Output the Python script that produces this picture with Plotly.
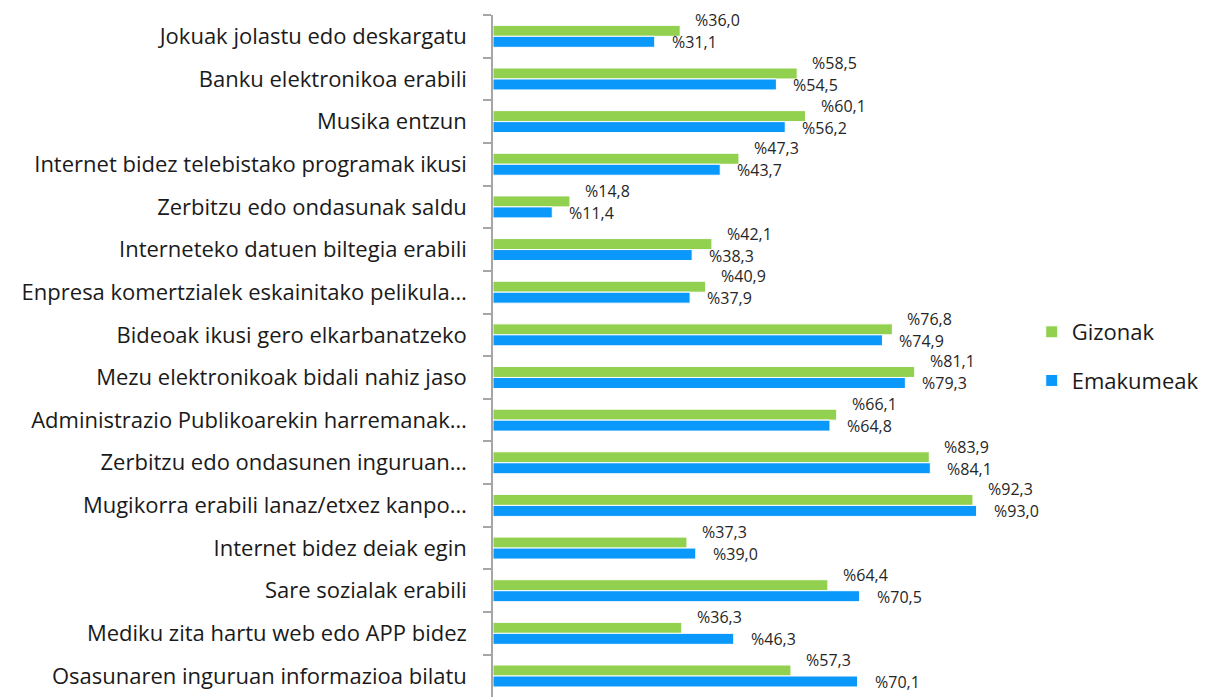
import plotly.graph_objects as go

# ─── Data ────────────────────────────────────────────────────────────────────
categories = [
    "Jokuak jolastu edo deskargatu",
    "Banku elektronikoa erabili",
    "Musika entzun",
    "Internet bidez telebistako programak ikusi",
    "Zerbitzu edo ondasunak saldu",
    "Interneteko datuen biltegia erabili",
    "Enpresa komertzialek eskainitako pelikula…",
    "Bideoak ikusi gero elkarbanatzeko",
    "Mezu elektronikoak bidali nahiz jaso",
    "Administrazio Publikoarekin harremanak…",
    "Zerbitzu edo ondasunen inguruan…",
    "Mugikorra erabili lanaz/etxez kanpo…",
    "Internet bidez deiak egin",
    "Sare sozialak erabili",
    "Mediku zita hartu web edo APP bidez",
    "Osasunaren inguruan informazioa bilatu",
]
gizonak = [36.0, 58.5, 60.1, 47.3, 14.8, 42.1, 40.9, 76.8, 81.1, 66.1, 83.9, 92.3, 37.3, 64.4, 36.3, 57.3]
emakumeak = [31.1, 54.5, 56.2, 43.7, 11.4, 38.3, 37.9, 74.9, 79.3, 64.8, 84.1, 93.0, 39.0, 70.5, 46.3, 70.1]

GREEN = "#92D050"
BLUE = "#0A98FA"
FONT = "'Open Sans', sans-serif"


def fmt(v):
    return "%" + f"{v:.1f}".replace(".", ",")


fig = go.Figure()
fig.add_trace(go.Bar(
    y=categories, x=gizonak, orientation="h", name="Gizonak",
    marker=dict(color=GREEN, line=dict(color="white", width=1)),
    legendgroup="g",
))
fig.add_trace(go.Bar(
    y=categories, x=emakumeak, orientation="h", name="Emakumeak",
    marker=dict(color=BLUE, line=dict(color="white", width=1)),
    legendgroup="e",
))

annotations = []
for cat, g, e in zip(categories, gizonak, emakumeak):
    annotations.append(dict(
        x=g, y=cat, text=fmt(g), showarrow=False, xanchor="left",
        xshift=13, yshift=16, font=dict(size=16, color="#262626", family=FONT),
    ))
    annotations.append(dict(
        x=e, y=cat, text=fmt(e), showarrow=False, xanchor="left",
        xshift=15, yshift=-6, font=dict(size=16, color="#262626", family=FONT),
    ))

# the page body has an 8px margin, so margins are shifted to compensate
fig.update_layout(
    width=1211, height=697,
    barmode="group", bargap=0.485, bargroupgap=0,
    paper_bgcolor="white", plot_bgcolor="white",
    font=dict(family=FONT, color="#1A1A1A"),
    margin=dict(l=485, r=206, t=7, b=0, autoexpand=False),
    xaxis=dict(range=[0, 100], visible=False),
    yaxis=dict(
        autorange="reversed", automargin=False,
        categoryorder="array", categoryarray=categories,
        showline=True, linecolor="#A6A6A6", linewidth=1.5,
        ticks="outside", ticklen=8, tickcolor="#A6A6A6", tickwidth=1.5,
        tickson="boundaries", ticklabelstandoff=20,
        tickfont=dict(size=22, family=FONT, color="#1A1A1A"),
        showgrid=False,
    ),
    legend=dict(
        x=1.036, y=0.505, xanchor="left", yanchor="middle",
        font=dict(size=22, family=FONT, color="#1A1A1A"),
        tracegroupgap=17, itemwidth=30,
    ),
    annotations=annotations,
)

fig.write_html("out.html")
